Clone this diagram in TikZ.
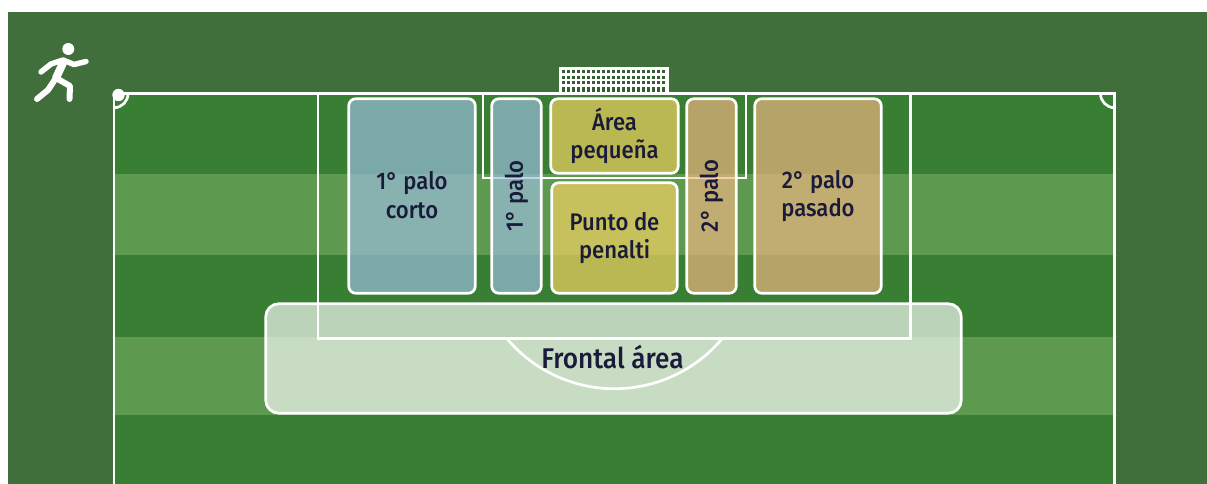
\documentclass[tikz,border=0pt]{standalone}
\usepackage{fontspec}
\setmainfont{Fira Sans}[UprightFont=* Medium,FakeStretch=0.92]
\usetikzlibrary{positioning}
\definecolor{surround}{RGB}{64,111,60}
\definecolor{grass}{RGB}{56,127,51}
\definecolor{stripe}{RGB}{93,153,78}
\definecolor{inktext}{RGB}{26,26,58}
\definecolor{bluezone}{RGB}{156,191,224}
\definecolor{yellowzone}{RGB}{250,213,100}
\definecolor{tanzone}{RGB}{243,182,131}
\tikzstyle{pitchline} = [draw=white, line width=2.7pt]
\tikzstyle{limb} = [draw=white, line width=6pt, line cap=round, line join=round]

\begin{document}
\begin{tikzpicture}[
x=1pt, y=-1pt,
zonebox/.style={rectangle, draw=white, line width=2.7pt, rounded corners=7pt, inner sep=0pt, outer sep=0pt, align=center,
  fill opacity=0.67, text opacity=1, text=inktext, font=\fontsize{24}{28.5}\selectfont, minimum height=194.5pt},
bluebox/.style={zonebox, fill=bluezone},
yellowbox/.style={zonebox, fill=yellowzone},
tanbox/.style={zonebox, fill=tanzone},
wideframe/.style={rectangle, draw=white, line width=2.7pt, rounded corners=13pt, fill=white, fill opacity=0.66, inner sep=0pt}
]
\useasboundingbox (0,0) rectangle (1207,484);
% ground
\fill[surround] (8,12) rectangle (1207,484);
\fill[grass] (114,93.7) rectangle (1114.5,484);
\fill[stripe] (114,174) rectangle (1114.5,255);
\fill[stripe] (114,337) rectangle (1114.5,415);

% goal net
\fill[surround!85!black] (560,68) rectangle (668,93);
\foreach \i in {0,...,21} \draw[white, line width=2.4pt] (561+\i*5,68) -- (561+\i*5,93);
\foreach \j in {0,...,3} \draw[white, line width=2.6pt] (560,69+\j*5.6) -- (668,69+\j*5.6);
\draw[white, line width=1.2pt] (560,68) rectangle (668,93);

% frontal area goes under the lines
\node[wideframe, minimum width=695.5pt, minimum height=109.5pt] (frontal) at (613.5,358.5) {};

% pitch lines
\draw[pitchline] (114,484) -- (114,93.7) -- (1114.5,93.7) -- (1114.5,484);
\draw[pitchline] (318,93.7) rectangle (910.7,338.7);
\draw[pitchline] (483,93.7) -- (483,178) -- (746,178) -- (746,93.7);
\draw[pitchline] (507,338.7) arc[start angle=139.9, end angle=40.1, radius=140.6];
\draw[pitchline] (128,93.7) arc[start angle=0, end angle=90, radius=14];
\draw[pitchline] (1100.5,93.7) arc[start angle=180, end angle=90, radius=14];
\fill[white] (118.5,95) circle (6.2);

% zones
\node[bluebox, minimum width=126.5pt] (corto) at (412,196) {\raisebox{2pt}{1° palo}\\\raisebox{2pt}{corto}};
\node[bluebox, minimum width=49.5pt] (palouno) [right=16.5pt of corto] {\rotatebox{90}{1° palo}};
\node[yellowbox, minimum width=127.5pt, minimum height=74.5pt] (pequena) at (614.5,136) {Área\\pequeña};
\node[yellowbox, minimum width=125.5pt, minimum height=110.5pt] (penalti) [below=9.5pt of pequena] {Punto de\\penalti};
\node[tanbox, minimum width=49.5pt] (palodos) at (711.5,196) {\rotatebox{90}{2° palo}};
\node[tanbox, minimum width=126.5pt] (pasado) [right=18.5pt of palodos] {2° palo\\pasado};
\node[text=inktext, font=\fontsize{28.5}{32}\selectfont, inner sep=0pt] (frontaltxt) at (612.5,357) {Frontal área};

% runner
\fill[white] (68.3,49) circle (6);
\draw[limb, line width=8pt] (63,63) -- (56,78);
\draw[limb, line width=5.5pt] (41,72) -- (51,64) -- (63,60) -- (74,64.5) -- (86,61.5);
\draw[limb] (56,78) -- (48,90) -- (37,99);
\draw[limb] (56,78) -- (70,86) -- (69.5,99);
\end{tikzpicture}
\end{document}
